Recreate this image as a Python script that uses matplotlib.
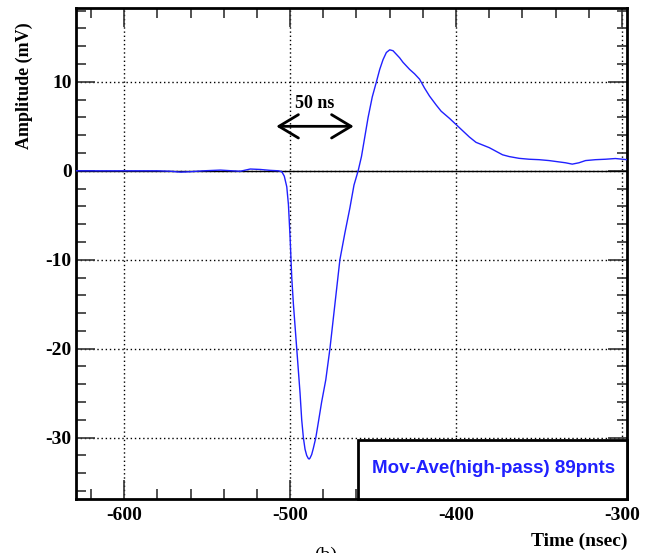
import matplotlib.pyplot as plt
from matplotlib.ticker import MultipleLocator
from matplotlib.patches import Rectangle

plt.rcParams['axes.unicode_minus'] = False

# Data
time_ns = [-629, -600, -580, -572, -566, -560, -552, -542, -535, -530, -524, -518,
           -512, -507, -505, -503.5, -502, -501, -500, -499, -498, -497, -496,
           -495, -494, -493, -492, -491, -490, -489, -488.5, -488, -487, -486,
           -485, -484.5, -483, -481, -478.5, -476, -473, -470, -467, -464,
           -461.5, -459, -457, -455, -453, -450.5, -448, -446, -444, -442,
           -440, -438, -436, -434, -432, -430, -428, -425, -422, -419, -416,
           -412, -409, -404, -400, -396, -392, -388, -384, -380, -376, -372,
           -368, -362, -356, -350, -344, -338, -334, -330, -326, -322, -316,
           -310, -304, -297]
amp_mv = [0.0, 0.0, 0.0, -0.05, -0.15, -0.1, 0.0, 0.08, 0.0, -0.05, 0.2, 0.15,
          0.05, 0.0, -0.1, -0.6, -1.8, -3.8, -7.5, -12, -15, -17.5, -20,
          -22.5, -25, -28, -30, -31.3, -32, -32.35, -32.4, -32.3, -31.9, -31.2,
          -30.4, -30, -28.3, -26, -23.5, -20, -15, -10, -7, -4.2,
          -1.6, 0.0, 1.6, 3.8, 6.0, 8.3, 10.0, 11.4, 12.5, 13.3,
          13.6, 13.5, 13.1, 12.7, 12.2, 11.8, 11.4, 10.9, 10.3, 9.3, 8.4,
          7.4, 6.7, 5.9, 5.2, 4.5, 3.8, 3.2, 2.9, 2.6, 2.2, 1.8,
          1.6, 1.4, 1.3, 1.25, 1.15, 1.0, 0.9, 0.75, 0.9, 1.15, 1.25,
          1.3, 1.38, 1.25]

x_lim = (-629, -297)
y_lim = (-36.9, 18.3)
x_ticks = [-600, -500, -400, -300]
y_ticks = [-30, -20, -10, 0, 10]
legend_text = 'Mov-Ave(high-pass) 89pnts'
span_start, span_end, span_y = -510, -460, 5.0

serif = 'Liberation Serif'
sans = 'Liberation Sans'

fig = plt.figure(figsize=(6.51, 5.53), dpi=100)
ax = fig.add_axes([0.1167, 0.0976, 0.8465, 0.8879])

ax.plot(time_ns, amp_mv, color='#2020ff', lw=1.0, zorder=3)
ax.axhline(0, color='black', lw=1.0, zorder=2)

ax.set_xlim(*x_lim)
ax.set_ylim(*y_lim)
ax.set_xticks(x_ticks)
ax.set_yticks(y_ticks)
ax.xaxis.set_minor_locator(MultipleLocator(20))
ax.yaxis.set_minor_locator(MultipleLocator(2))
ax.grid(True, which='major', color='black', linestyle=(0, (1, 2)), lw=1.0)

ax.tick_params(which='both', direction='in', top=True, right=True, color='#333333')
ax.tick_params(which='major', length=14, width=1.2)
ax.tick_params(which='minor', length=7, width=1.2)
ax.tick_params(axis='x', which='major', pad=6)
ax.tick_params(axis='y', which='major', pad=3)
for lab in ax.get_xticklabels() + ax.get_yticklabels():
    lab.set_fontfamily(serif)
    lab.set_fontweight('bold')
    lab.set_fontsize(14)
for sp in ax.spines.values():
    sp.set_linewidth(2)

ax.set_xlabel('Time (nsec)', fontfamily=serif, fontweight='bold', fontsize=14,
              loc='right', labelpad=6)
fig.text(24 / 651, 1 - 86 / 553, 'Amplitude (mV)', rotation=90, ha='center', va='center',
         fontfamily=serif, fontweight='bold', fontsize=13)

# 50 ns marker
ax.annotate('', xy=(span_end, span_y), xytext=(span_start, span_y),
            arrowprops=dict(arrowstyle='<->,head_length=1.0,head_width=0.6',
                            color='black', lw=2, mutation_scale=14))
ax.text((span_start + span_end) / 2, span_y + 2.6, '50 ns', ha='center', va='center',
        fontfamily=serif, fontweight='bold', fontsize=13)

# label box
box = Rectangle((0.512, 0.0), 0.488, 0.12, transform=ax.transAxes, facecolor='white',
                edgecolor='black', lw=2, zorder=5, clip_on=False)
ax.add_patch(box)
ax.text(0.757, 0.063, legend_text, transform=ax.transAxes, ha='center', va='center',
        color='#2020ff', fontfamily=sans, fontweight='bold', fontsize=13.5, zorder=6)

fig.text(0.5, -0.005, '(b)', ha='center', va='center', fontfamily=serif, fontsize=14)

fig.savefig('out.png', dpi=100)
